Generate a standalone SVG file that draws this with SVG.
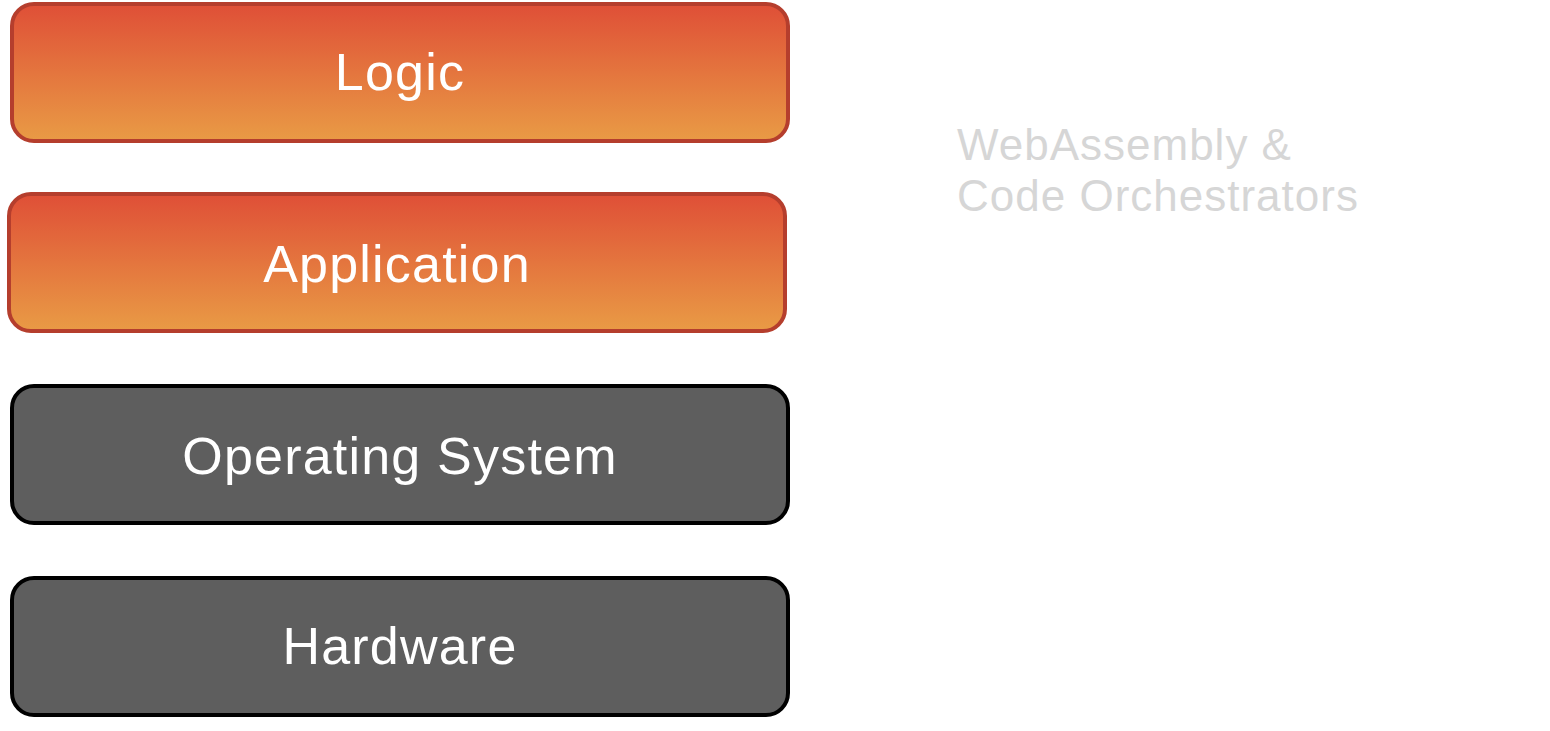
<svg xmlns="http://www.w3.org/2000/svg" width="1550" height="731" viewBox="0 0 1550 731">
<defs>
<linearGradient id="og" x1="0" y1="0" x2="0" y2="1">
<stop offset="0" stop-color="#df4f37"/>
<stop offset="1" stop-color="#e99b45"/>
</linearGradient>
<style>
.o{fill:url(#og);stroke:#b53e2d;stroke-width:4}
.g{fill:#5e5e5e;stroke:#000;stroke-width:4}
.t{font-family:"Liberation Sans",Arial,sans-serif;font-size:52px;fill:#fff;text-anchor:middle;letter-spacing:1.2px}
.n{font-family:"Liberation Sans",Arial,sans-serif;font-size:44px;fill:#d6d6d6;letter-spacing:1px}
</style>
</defs>
<rect width="1550" height="731" fill="#fff"/>
<g id="logic"><rect class="o" x="12" y="4" width="776" height="137" rx="22"/><text class="t" x="400" y="90">Logic</text></g>
<g id="application"><rect class="o" x="9" y="194" width="776" height="137" rx="22"/><text class="t" x="397" y="282">Application</text></g>
<g id="os"><rect class="g" x="12" y="386" width="776" height="137" rx="22"/><text class="t" x="400" y="474">Operating System</text></g>
<g id="hardware"><rect class="g" x="12" y="578" width="776" height="137" rx="22"/><text class="t" x="400" y="664">Hardware</text></g>
<g id="note"><text class="n" x="957" y="160">WebAssembly &amp;</text><text class="n" x="957" y="211">Code Orchestrators</text></g>
<g id="connectors"/>
</svg>
